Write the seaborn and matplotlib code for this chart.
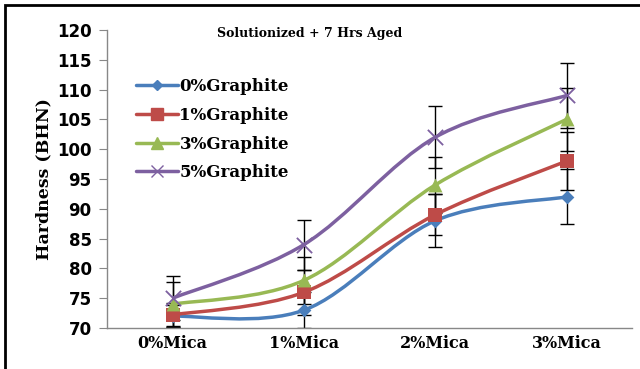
import numpy as np
import matplotlib
matplotlib.use("Agg")
import matplotlib.pyplot as plt
import seaborn as sns
from matplotlib.path import Path
from matplotlib.patches import PathPatch, Rectangle
from matplotlib.lines import Line2D

# data
categories = ["0%Mica", "1%Mica", "2%Mica", "3%Mica"]
series_names = ["0%Graphite", "1%Graphite", "3%Graphite", "5%Graphite"]
g0 = [72.0, 73.0, 88.0, 92.0]
g1 = [72.2, 76.0, 89.0, 98.0]
g3 = [74.0, 78.0, 94.0, 105.0]
g5 = [75.0, 84.0, 102.0, 109.0]
err0 = [1.8, 3.0, 4.4, 4.6]
err1 = [2.0, 3.8, 3.4, 4.9]
err3 = [3.7, 3.9, 4.7, 5.3]
err5 = [3.7, 4.2, 5.2, 5.5]

colors = ["#4A7EBB", "#BE4B48", "#98B954", "#7D60A0"]
markers = ["D", "s", "^", "x"]
msizes = [7, 10, 10, 11]

sns.set_style("white", {"text.color": "black", "axes.labelcolor": "black",
                        "xtick.color": "black", "ytick.color": "black"})
plt.rcParams["font.family"] = ["DejaVu Serif"]

fig = plt.figure(figsize=(6.4, 3.69), dpi=100)
ax = fig.add_axes([0.167, 0.111, 0.821, 0.808])


def smooth_path(xs, ys):
    # Excel-like smoothed line: cubic bezier through points (Catmull-Rom)
    pts = np.column_stack([xs, ys]).astype(float)
    verts = [pts[0]]
    codes = [Path.MOVETO]
    n = len(pts)
    for i in range(n - 1):
        p0 = pts[i - 1] if i > 0 else pts[i]
        p1 = pts[i]
        p2 = pts[i + 1]
        p3 = pts[i + 2] if i + 2 < n else pts[i + 1]
        c1 = p1 + (p2 - p0) / 6.0
        c2 = p2 - (p3 - p1) / 6.0
        verts += [c1, c2, p2]
        codes += [Path.CURVE4] * 3
    return Path(verts, codes)


xpos = np.arange(len(categories))
all_vals = [g0, g1, g3, g5]
all_err = [err0, err1, err3, err5]

for vals, errs in zip(all_vals, all_err):
    ax.errorbar(xpos, vals, yerr=errs, fmt="none", ecolor="black",
                elinewidth=1.0, capsize=5, capthick=1.0, zorder=2)

handles = []
for name, vals, c, m, ms in zip(series_names, all_vals, colors, markers, msizes):
    ax.add_patch(PathPatch(smooth_path(xpos, vals), facecolor="none",
                           edgecolor=c, lw=2.5, zorder=3))
    sns.scatterplot(x=xpos, y=vals, ax=ax, marker=m, color=c, s=ms ** 2,
                    linewidth=1.3 if m == "x" else 0, edgecolor=c, zorder=4,
                    legend=False)
    handles.append(Line2D([0], [0], color=c, lw=2.5, marker=m, markersize=ms * 0.8,
                          markeredgecolor=c, markeredgewidth=1.0))

ax.set_xlim(-0.5, 3.5)
ax.set_ylim(70, 120)
ax.set_yticks(range(70, 121, 5))
ax.set_yticklabels([str(v) for v in range(70, 121, 5)], family="DejaVu Sans",
                   fontweight="bold", fontsize=12)
ax.set_xticks(xpos)
ax.set_xticklabels(categories, fontweight="bold", fontsize=11.5)
ax.set_xticks(np.arange(-0.5, 3.6, 1.0), minor=True)
ax.tick_params(axis="x", which="major", length=0, pad=5, labelcolor="black")
ax.tick_params(axis="x", which="minor", length=5, color="#888888", direction="out")
ax.tick_params(axis="y", length=6, color="#888888", direction="out", left=True, pad=5,
               labelcolor="black")

for s in ["top", "right"]:
    ax.spines[s].set_visible(False)
for s in ["left", "bottom"]:
    ax.spines[s].set_color("#888888")
    ax.spines[s].set_linewidth(1.0)

ax.set_ylabel("Hardness (BHN)", fontweight="bold", fontsize=12.5, labelpad=3, color="black")
fig.text(310 / 640, 1 - 33 / 369, "Solutionized + 7 Hrs Aged", color="black",
         ha="center", va="center", fontweight="bold", fontsize=9)

leg = ax.legend(handles, series_names, loc="upper left", bbox_to_anchor=(0.043, 0.86),
                frameon=False, prop={"weight": "bold", "size": 12}, handlelength=2.5,
                handletextpad=0.1, labelspacing=0.7, borderaxespad=0, labelcolor="black")

fig.patches.append(Rectangle((5 / 640, -0.1), 1.2, 1.1 - 5 / 369, transform=fig.transFigure,
                             fill=False, edgecolor="black", lw=2.0, zorder=10))

fig.savefig("out.png", dpi=100)
